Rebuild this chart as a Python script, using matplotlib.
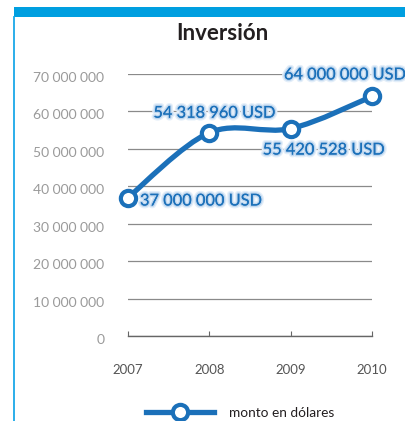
import numpy as np
import matplotlib.pyplot as plt
import matplotlib.patheffects as pe
import matplotlib.transforms as mtransforms
from matplotlib.path import Path
from matplotlib.patches import PathPatch, Rectangle
from matplotlib.lines import Line2D

# -----------------------------
# DATA
# -----------------------------
years = [2007, 2008, 2009, 2010]
values = [37000000, 54318960, 55420528, 64000000]
value_labels = ["37 000 000 USD", "54 318 960 USD", "55 420 528 USD", "64 000 000 USD"]
label_offsets = [(12, -4), (5, 19), (-28, -22), (-27, 21)]   # pixels
label_align = ["left", "center", "left", "center"]
yticks = [0, 10000000, 20000000, 30000000, 40000000, 50000000, 60000000, 70000000]
ytick_labels = ["0", "10 000 000", "20 000 000", "30 000 000", "40 000 000",
                "50 000 000", "60 000 000", "70 000 000"]

blue = "#1b70b9"
plt.rcParams["font.family"] = ["Lato", "DejaVu Sans"]

# -----------------------------
# FIGURE
# -----------------------------
fig = plt.figure(figsize=(4.06, 4.21), dpi=100)
ax = fig.add_axes([128 / 406, 1 - 336 / 421, 244 / 406, 262 / 421])

# frame decorations (top band and left rule)
fig.patches.append(Rectangle((14 / 406, 1 - 17 / 421), 392 / 406, 10 / 421,
                             transform=fig.transFigure, color="#009fe0", lw=0))
fig.add_artist(Line2D([14.5 / 406, 14.5 / 406], [0, 1 - 17 / 421],
                      transform=fig.transFigure, color="#1aa8e8", lw=1.3))

fig.text(222 / 406, 1 - 33 / 421, "Inversión", ha="center", va="center",
         fontsize=16, fontweight="bold", color="#231f20")

# smooth line (Catmull-Rom through the points)
x = np.array(years, dtype=float)
y = np.array(values, dtype=float)
pts = np.column_stack([x, y])
ext = np.vstack([pts[0], pts, pts[-1]])
verts = [tuple(pts[0])]
codes = [Path.MOVETO]
for i in range(len(pts) - 1):
    p0, p1, p2, p3 = ext[i], ext[i + 1], ext[i + 2], ext[i + 3]
    c1 = p1 + (p2 - p0) / 6
    c2 = p2 - (p3 - p1) / 6
    verts += [tuple(c1), tuple(c2), tuple(p2)]
    codes += [Path.CURVE4] * 3
ax.add_patch(PathPatch(Path(verts, codes), fill=False, edgecolor=blue,
                       lw=3.8, capstyle="round", zorder=4, clip_on=False))
ax.plot(years, values, linestyle="none", marker="o", ms=11, mfc="white",
        mec=blue, mew=3, zorder=5, clip_on=False)

# value labels with soft glow
glow = [pe.withStroke(linewidth=4, foreground="#e3eef9"),
        pe.withStroke(linewidth=2, foreground="#bcd5ee"), pe.Normal()]
for xv, yv, lab, off, ha in zip(years, values, value_labels, label_offsets, label_align):
    ax.annotate(lab, (xv, yv), xytext=off, textcoords="offset pixels",
                ha=ha, va="center", fontsize=11.8, color=blue,
                path_effects=glow, zorder=6, annotation_clip=False)

# axes
ax.set_xlim(2007, 2010)
ax.set_ylim(0, 70000000)
ax.set_yticks(yticks)
ax.set_yticklabels(ytick_labels)
ax.set_xticks(years)
ax.set_xticklabels([str(v) for v in years])
ax.grid(axis="y", color="#8a8a8a", lw=0.9)
ax.set_axisbelow(True)
for s in ["top", "right", "left"]:
    ax.spines[s].set_visible(False)
ax.spines["bottom"].set_color("#666666")
ax.spines["bottom"].set_linewidth(1.0)
ax.tick_params(axis="y", length=0, pad=17, labelsize=10, labelcolor="#9a9a9a")
ax.tick_params(axis="x", direction="in", length=3.5, color="#666666",
               pad=20, labelsize=9.5, labelcolor="#555555")
shift = mtransforms.ScaledTranslation(0, -3 / 100, fig.dpi_scale_trans)
for lab in ax.get_yticklabels():
    lab.set_transform(lab.get_transform() + shift)

# legend
handle = Line2D([], [], color=blue, lw=3.8, marker="o", ms=11, mfc="white",
                mec=blue, mew=3)
fig.legend([handle], ["monto en dólares"], loc="center",
           bbox_to_anchor=(240 / 406, 1 - 413 / 421), frameon=False,
           fontsize=9.8, handlelength=5.0, handletextpad=1.1, labelcolor="#231f20")

fig.savefig("out.png", dpi=100)
